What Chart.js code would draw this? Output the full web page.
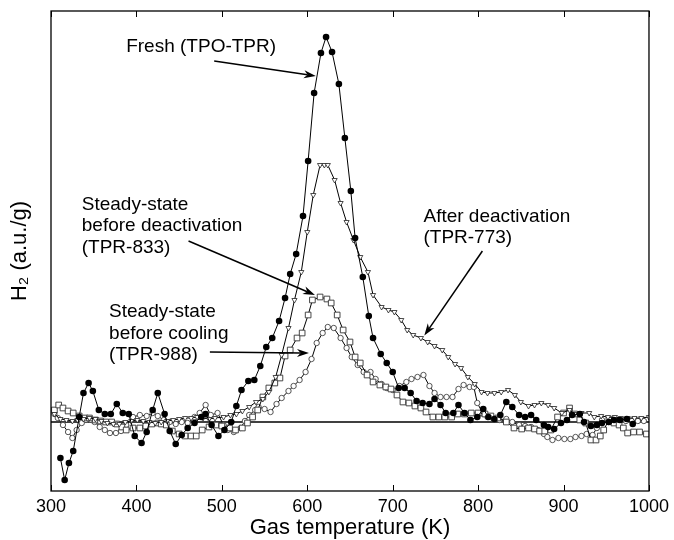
<!DOCTYPE html>
<html>
<head>
<meta charset="utf-8">
<script src="https://cdn.jsdelivr.net/npm/chart.js@4/dist/chart.umd.min.js"></script>
<style>
  html, body { margin: 0; padding: 0; background: #fff; }
  #wrap { width: 674px; height: 540px; }
</style>
</head>
<body>
<div id="wrap"><canvas id="tprChart" width="674" height="540"></canvas></div>
<script>
const FONT = "Arial, 'Liberation Sans', Helvetica, sans-serif";
const X_TICKS = [300, 400, 500, 600, 700, 800, 900, 1000];

// Fresh (TPO-TPR), filled circles
const freshT = [311,316,321,326,333,338,344,349,356,363,370,377,384,391,398,406,412,419,425,433,
  439,446,453,460,468,476,481,488,496,503,511,517,523,531,538,545,552,559,567,574,
  580,587,595,601,608,616,622,629,637,644,651,656,665,672,677,686,693,700,707,714,
  721,728,735,743,749,756,762,771,777,784,791,799,806,812,819,826,833,840,848,855,
  862,868,877,882,889,897,904,910,919,924,932,939,945,953,959,966,974,981];
const freshH = [-0.36,-0.58,-0.41,-0.29,0.05,0.29,0.39,0.31,0.12,0.08,0.08,0.18,0.09,0.08,-0.14,-0.21,-0.10,0.12,0.29,0.08,
  -0.09,-0.22,-0.13,-0.06,-0.01,0.05,0.08,-0.03,-0.14,-0.08,0.00,0.16,0.32,0.41,0.42,0.56,0.75,0.84,1.01,1.24,
  1.48,1.68,2.06,2.61,3.29,3.69,3.85,3.70,3.38,2.84,2.31,1.84,1.45,1.06,0.84,0.68,0.59,0.50,0.34,0.34,
  0.29,0.21,0.19,0.18,0.23,0.17,0.09,0.09,0.17,0.09,0.02,0.05,0.13,0.05,0.03,0.07,0.20,0.15,0.07,0.05,
  0.07,0.02,-0.03,-0.05,-0.07,-0.01,0.02,0.07,0.08,0.00,-0.04,-0.03,-0.01,0.00,0.02,0.02,0.03,-0.02];

// After deactivation (TPR-773), open triangles
const afterT = [304,311,318,325,331,338,345,352,359,366,373,380,387,394,401,408,415,422,429,436,
  443,450,457,464,471,478,485,492,502,510,517,524,532,540,548,555,563,570,578,585,
  593,600,607,615,620,624,632,639,646,654,662,671,677,687,695,702,710,717,724,733,
  741,749,758,765,773,780,788,796,804,811,819,827,835,843,850,859,866,874,882,889,
  898,907,913,921,930,936,944,952,960,967,975,983,991,1000];
const afterH = [0.08,0.03,0.02,0.01,0.02,0.03,0.04,0.03,0.01,-0.01,-0.02,-0.02,0.00,0.01,0.02,0.01,0.00,-0.01,0.00,0.01,
  0.02,0.03,0.04,0.04,0.05,0.04,0.03,0.04,0.05,0.07,0.08,0.11,0.15,0.20,0.23,0.30,0.45,0.67,0.94,1.22,
  1.50,1.90,2.27,2.57,2.57,2.57,2.42,2.19,2.00,1.82,1.65,1.50,1.27,1.15,1.12,1.10,1.02,0.92,0.87,0.84,
  0.80,0.76,0.72,0.65,0.58,0.54,0.45,0.38,0.30,0.29,0.29,0.30,0.32,0.27,0.20,0.16,0.17,0.19,0.17,0.14,
  0.09,0.12,0.08,0.09,0.09,0.05,0.06,0.05,0.05,0.04,0.04,0.04,0.04,0.05];

// Steady-state before deactivation (TPR-833), open squares
const ssDeactT = [304,309,314,320,326,333,340,345,352,358,364,371,377,383,388,396,404,411,418,425,
  429,435,442,450,457,464,470,477,485,493,500,509,516,524,530,536,542,548,555,562,
  568,574,580,588,594,601,606,615,623,628,635,642,650,656,662,670,677,685,692,698,
  705,712,719,726,733,739,747,754,761,769,776,784,792,800,808,815,823,833,842,851,
  859,866,872,878,885,893,900,907,913,919,926,932,938,943,947,953,959,965,970,975,
  982,989,997];
const ssDeactH = [0.12,0.17,0.14,0.11,0.09,0.06,0.04,0.04,0.02,0.01,0.00,0.00,-0.02,-0.05,-0.08,-0.06,-0.06,-0.04,-0.02,-0.01,
  -0.02,-0.03,-0.09,-0.12,-0.14,-0.14,-0.14,-0.08,-0.05,-0.03,-0.04,-0.06,-0.08,-0.06,-0.01,0.05,0.12,0.25,0.34,0.39,
  0.44,0.66,0.72,0.84,0.89,1.07,1.22,1.25,1.23,1.19,1.07,0.92,0.80,0.65,0.59,0.47,0.40,0.37,0.35,0.33,
  0.27,0.20,0.19,0.16,0.14,0.10,0.05,0.05,0.05,0.05,0.08,0.08,0.09,0.09,0.08,0.06,0.04,0.00,-0.06,-0.07,
  -0.06,-0.07,-0.09,-0.09,-0.08,0.05,0.09,0.14,0.08,0.02,-0.01,-0.18,-0.18,-0.14,-0.08,0.02,-0.01,-0.03,-0.06,-0.11,
  -0.10,-0.10,-0.12];

// Steady-state before cooling (TPR-988), open circles
const ssCoolT = [304,308,314,320,325,330,336,341,347,351,357,363,369,376,382,388,396,404,412,419,
  425,432,439,446,453,460,468,474,481,487,495,502,507,514,522,527,532,539,543,550,
  557,564,570,578,584,591,598,605,611,618,624,631,639,646,652,659,666,674,680,687,
  693,700,708,716,722,729,736,743,749,756,763,770,777,783,790,795,799,806,811,818,
  825,833,840,848,855,862,870,877,881,887,894,901,908,914,921,927,934,939,945,953,
  959,966,973,980,987,994];
const ssCoolH = [0.08,0.04,-0.03,-0.10,-0.16,-0.08,-0.01,0.02,0.02,0.00,-0.05,-0.08,-0.11,-0.11,-0.09,-0.03,0.05,0.07,0.06,0.09,
  0.06,0.02,0.00,-0.02,0.00,-0.01,0.05,0.09,0.17,0.07,0.09,-0.03,-0.08,-0.10,-0.06,0.01,0.07,0.12,0.15,0.13,
  0.10,0.18,0.24,0.31,0.36,0.42,0.50,0.63,0.79,0.89,0.95,0.94,0.84,0.74,0.65,0.57,0.50,0.50,0.43,0.38,
  0.34,0.32,0.36,0.40,0.43,0.45,0.47,0.36,0.29,0.25,0.25,0.25,0.33,0.37,0.35,0.35,0.19,0.08,0.05,0.03,
  0.02,0.03,0.00,-0.03,-0.04,-0.05,-0.08,-0.12,-0.15,-0.18,-0.16,-0.17,-0.17,-0.15,-0.14,-0.12,-0.13,-0.06,0.02,0.00,
  0.01,0.01,0.01,0.01,0.01,0.01];

// annotations, in data units (K, a.u.)
const NOTES = [
  { t: 388, h: [3.755], lines: ["Fresh (TPO-TPR)"] },
  { t: 336, h: [2.17, 1.96, 1.74], lines: ["Steady-state", "before deactivation", "(TPR-833)"] },
  { t: 368, h: [1.10, 0.88, 0.67], lines: ["Steady-state", "before cooling", "(TPR-988)"] },
  { t: 736, h: [2.05, 1.84], lines: ["After deactivation", "(TPR-773)"] }
];
const ARROWS = [
  [491, 3.61, 610, 3.46],
  [461, 1.81, 609, 1.27],
  [486, 0.70, 602, 0.69],
  [805, 1.71, 737, 0.865]
];

function pts(T, H) {
  return T.map((t, i) => ({ x: t, y: H[i] }));
}

function drawArrow(ctx, x1, y1, x2, y2) {
  const a = Math.atan2(y2 - y1, x2 - x1);
  const c = Math.cos(a), s = Math.sin(a);
  const len = 12, half = 4;
  ctx.lineWidth = 1.5;
  ctx.beginPath();
  ctx.moveTo(x1, y1);
  ctx.lineTo(x2 - c * len * 0.7, y2 - s * len * 0.7);
  ctx.stroke();
  ctx.beginPath();
  ctx.moveTo(x2, y2);
  ctx.lineTo(x2 - c * len - s * half, y2 - s * len + c * half);
  ctx.lineTo(x2 - c * len * 0.7, y2 - s * len * 0.7);
  ctx.lineTo(x2 - c * len + s * half, y2 - s * len - c * half);
  ctx.closePath();
  ctx.fill();
}

const framePlugin = {
  id: "frame",
  afterDatasetsDraw(chart) {
    const { ctx, chartArea: a } = chart;
    const x = chart.scales.x, y = chart.scales.y;
    ctx.save();
    ctx.strokeStyle = "#000";
    ctx.fillStyle = "#000";
    ctx.lineWidth = 1.3;
    ctx.strokeRect(a.left, a.top, a.right - a.left, a.bottom - a.top);

    ctx.lineWidth = 1;
    ctx.beginPath();
    for (const t of X_TICKS) {
      const px = Math.round(x.getPixelForValue(t)) + 0.5;
      ctx.moveTo(px, a.bottom);
      ctx.lineTo(px, a.bottom - 6);
      ctx.moveTo(px, a.top);
      ctx.lineTo(px, a.top + 6);
    }
    ctx.stroke();

    ctx.font = "19px " + FONT;
    ctx.textBaseline = "middle";
    ctx.textAlign = "left";
    for (const n of NOTES) {
      n.lines.forEach((line, i) => {
        ctx.fillText(line, x.getPixelForValue(n.t), y.getPixelForValue(n.h[i]));
      });
    }
    for (const ar of ARROWS) {
      drawArrow(ctx, x.getPixelForValue(ar[0]), y.getPixelForValue(ar[1]),
        x.getPixelForValue(ar[2]), y.getPixelForValue(ar[3]));
    }
    ctx.restore();
  }
};

const ctx = document.getElementById("tprChart").getContext("2d");
new Chart(ctx, {
  type: "line",
  data: {
    datasets: [
      {
        label: "Fresh (TPO-TPR)",
        data: pts(freshT, freshH),
        borderColor: "#000", borderWidth: 1,
        pointStyle: "circle", pointRadius: 3.3,
        pointBackgroundColor: "#000", pointBorderColor: "#000", pointBorderWidth: 0
      },
      {
        label: "After deactivation (TPR-773)",
        data: pts(afterT, afterH),
        borderColor: "#000", borderWidth: 1,
        pointStyle: "triangle", pointRotation: 180, pointRadius: 3,
        pointBackgroundColor: "#fff", pointBorderColor: "#222", pointBorderWidth: 0.8
      },
      {
        label: "Steady-state before deactivation (TPR-833)",
        data: pts(ssDeactT, ssDeactH),
        borderColor: "#000", borderWidth: 1,
        pointStyle: "rect", pointRadius: 4,
        pointBackgroundColor: "#fff", pointBorderColor: "#333", pointBorderWidth: 0.9
      },
      {
        label: "Steady-state before cooling (TPR-988)",
        data: pts(ssCoolT, ssCoolH),
        borderColor: "#000", borderWidth: 1,
        pointStyle: "circle", pointRadius: 2.7,
        pointBackgroundColor: "#fff", pointBorderColor: "#444", pointBorderWidth: 0.9
      },
      {
        label: "baseline",
        data: [{ x: 300, y: 0 }, { x: 1000, y: 0 }],
        borderColor: "#000", borderWidth: 1.3, pointRadius: 0
      }
    ]
  },
  options: {
    responsive: false,
    animation: false,
    devicePixelRatio: 1,
    layout: { padding: { top: 11, right: 22, left: 0, bottom: 0 } },
    elements: { line: { tension: 0 } },
    plugins: { legend: { display: false }, tooltip: { enabled: false } },
    scales: {
      x: {
        type: "linear", min: 300, max: 1000,
        afterFit: s => { s.height = 49; },
        afterBuildTicks: s => { s.ticks = X_TICKS.map(v => ({ value: v })); },
        grid: { display: false, drawTicks: false },
        border: { display: false },
        ticks: { color: "#000", font: { family: FONT, size: 18 }, padding: 5, maxRotation: 0,
          autoSkip: false, callback: v => String(v) },
        title: { display: true, text: "Gas temperature (K)", color: "#000",
          font: { family: FONT, size: 22 }, padding: { top: 0, bottom: -1 } }
      },
      y: {
        type: "linear", min: -0.69, max: 4.11,
        afterFit: s => { s.width = 51; },
        grid: { display: false, drawTicks: false },
        border: { display: false },
        ticks: { display: false },
        title: { display: true, text: "H\u2082 (a.u./g)", color: "#000",
          font: { family: FONT, size: 22 }, padding: { top: 7, bottom: 0 } }
      }
    }
  },
  plugins: [framePlugin]
});
</script>
</body>
</html>
